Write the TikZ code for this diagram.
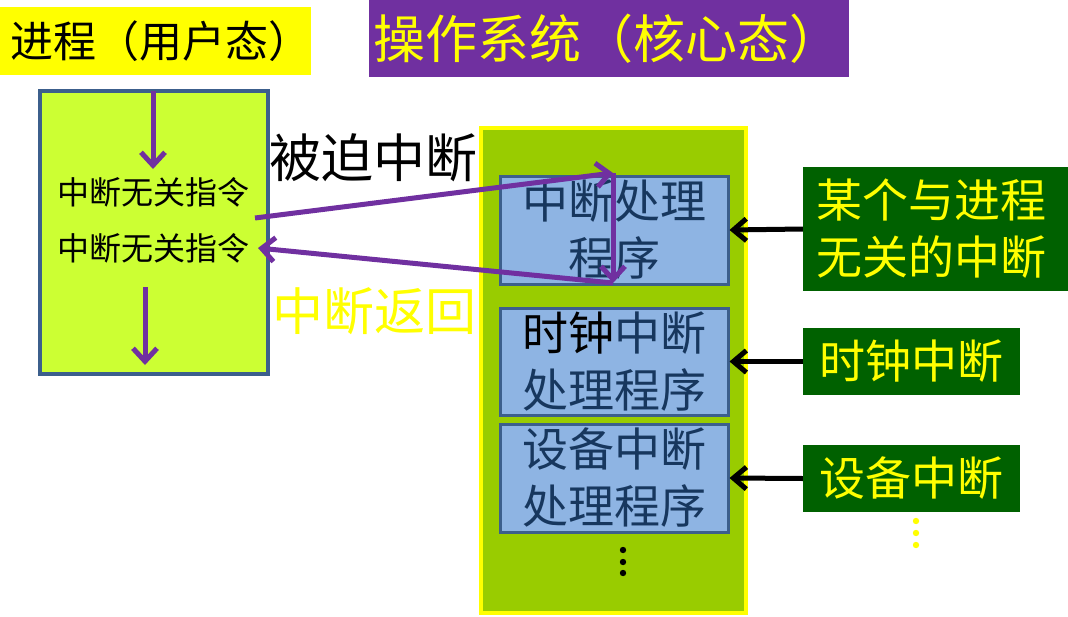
\documentclass[tikz,border=0pt]{standalone}
\usepackage{fontspec}
\setmainfont{Noto Sans CJK SC}
\usetikzlibrary{arrows.meta}
\definecolor{purp}{HTML}{7030A0}
\definecolor{lime}{HTML}{CCFF33}
\definecolor{osgreen}{HTML}{99CC00}
\definecolor{hblue}{HTML}{8EB4E3}
\definecolor{bordblue}{HTML}{3C5F8C}
\definecolor{navy}{HTML}{17375E}
\definecolor{dgreen}{HTML}{006100}
\definecolor{yel}{HTML}{FFFF00}
\tikzset{
  box/.style={inner sep=0pt, align=center, anchor=center},
  handler/.style={box, fill=hblue, draw=bordblue, line width=3pt, text=navy,
    minimum width=228pt, font=\fontsize{46}{57}\selectfont},
  src/.style={box, fill=dgreen, text=yel, font=\fontsize{46}{57}\selectfont},
  parr/.style={draw=purp, line width=5pt, -{Straight Barb[length=13pt,width=24pt,line width=5pt]}},
  barr/.style={draw=black, line width=5pt, -{Straight Barb[length=13pt,width=22pt,line width=5pt]}},
}
\begin{document}
\begin{tikzpicture}[x=1pt,y=-1pt]
\useasboundingbox (0,0) rectangle (1068,616);
% titles
\node[box, fill=yel, minimum width=311pt, minimum height=68pt] (t1) at (155.5,41) {};
\node[box, font=\fontsize{43}{50}\selectfont] (t1txt) at (161,41) {进程（用户态）};
\node[box, fill=purp, minimum width=480pt, minimum height=77pt] (t2) at (609,38.5) {};
\node[box, text=yel, font=\fontsize{52}{60}\selectfont] (t2txt) at (607,38.5) {操作系统（核心态）};
% process box
\node[box, fill=lime, draw=bordblue, line width=3.5pt, minimum width=228pt,
  minimum height=283pt] (L) at (154,232.5) {};
\node[box, font=\fontsize{32}{36}\selectfont] (l1) at (153,192) {中断无关指令};
\node[box, font=\fontsize{32}{36}\selectfont] (l2) at (153,248) {中断无关指令};
% OS box
\node[box, fill=osgreen, draw=yel, line width=3.5pt, minimum width=265pt,
  minimum height=485pt] (OS) at (613.5,370.5) {};
\node[handler, minimum height=108pt] (H1) at (614,230) {中断处理\\程序};
\node[handler, minimum height=107pt] (H2) at (614,361.5) {\textcolor{black}{时钟}中断\\处理程序};
\node[handler, minimum height=108pt] (H3) at (614,478) {设备中断\\处理程序};
\foreach \yy in {550,562,573} \fill (623,\yy) circle (3.2pt);
% sources
\node[src, minimum width=265pt, minimum height=124pt] (R1) at (935.5,229)
  {\hspace*{-9pt}某个与进程\\\hspace*{-9pt}无关的中断};
\node[src, minimum width=217pt, minimum height=67pt] (R2) at (911.5,361.5) {时钟中断};
\node[src, minimum width=217pt, minimum height=67pt] (R3) at (911.5,478.5) {设备中断};
\foreach \yy in {521,533,545} \fill[yel] (916,\yy) circle (3.2pt);
% labels
\node[box, font=\fontsize{52}{56}\selectfont] (lf) at (373,158) {被迫中断};
\node[box, text=yel, font=\fontsize{51}{56}\selectfont] (lr) at (374,311) {中断返回};
% connectors
\draw[barr] (R1.west) -- (H1.east);
\draw[barr] (R2.west) -- (H2.east);
\draw[barr] (R3.west) -- (H3.east);
\coordinate (ptop) at (153,91);
\coordinate (ptopend) at (153,169);
\coordinate (pbot) at (145,287);
\coordinate (pbotend) at (145,365);
\coordinate (fs) at (255,218);
\coordinate (ht) at (613,173);
\coordinate (hb) at (613,283);
\coordinate (rt) at (258,248);
\draw[parr] (ptop) -- (ptopend);
\draw[parr] (pbot) -- (pbotend);
\draw[parr] (fs) -- (ht);
\draw[parr] (ht) -- (hb);
\draw[parr] (hb) -- (rt);
\end{tikzpicture}
\end{document}
